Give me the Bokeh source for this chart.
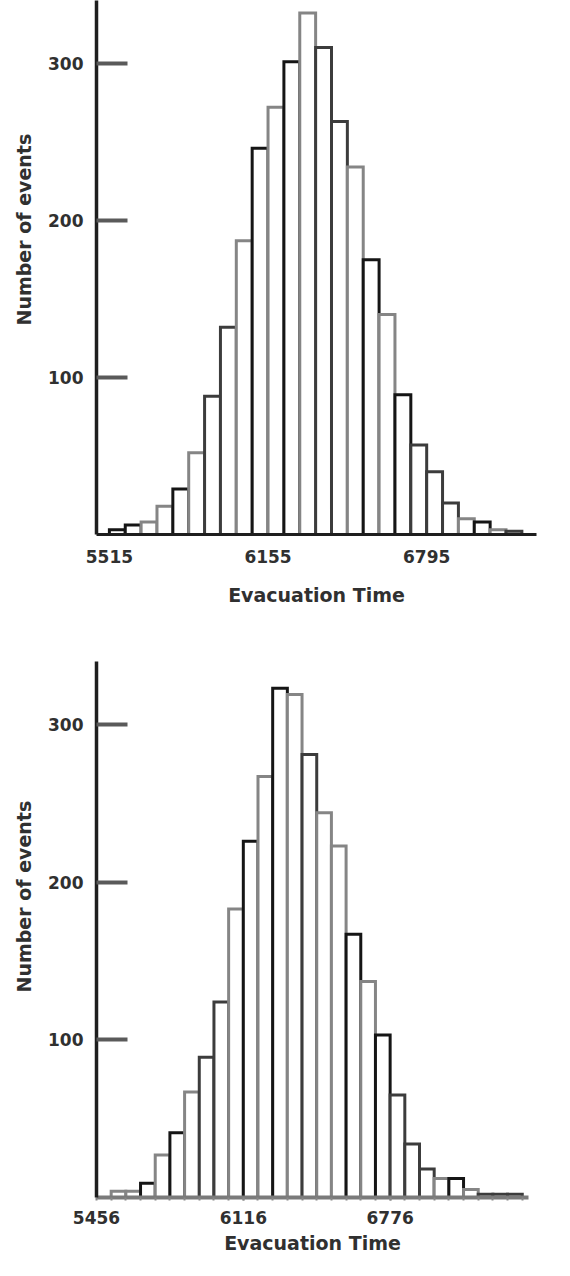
from bokeh.plotting import figure
from bokeh.layouts import column
from bokeh.models import FixedTicker, Title, Range1d, ColumnDataSource
from bokeh.embed import file_html
from bokeh.resources import INLINE

# ---------------- data ----------------
top_bin_start = 5515
top_bin_width = 64
top_counts = [3, 6, 8, 18, 29, 52, 88, 132, 187, 246, 272, 301, 332, 310,
              263, 234, 175, 140, 89, 57, 40, 20, 10, 8, 3, 2]
top_x_ticks = [5515, 6155, 6795]
top_x_labels = ["5515", "6155", "6795"]

bot_bin_start = 5522
bot_bin_width = 66
bot_counts = [4, 4, 9, 27, 41, 67, 89, 124, 183, 226, 267, 323, 319, 281,
              244, 223, 167, 137, 103, 65, 34, 18, 12, 12, 5, 2, 2, 2]
bot_x_ticks = [5456, 6116, 6776]
bot_x_labels = ["5456", "6116", "6776"]

y_ticks = [100, 200, 300]
y_labels = ["100", "200", "300"]

x_title = "Evacuation Time"
y_title = "Number of events"

# ---------------- styles ----------------
K, D, G = "#151515", "#3c3c3c", "#858585"
top_colors = [K, K, G, G, K, G, D, D, G, K, G, K, G, D, D, G, K, G, K, D, D, D, G, K, G, D]
bot_colors = [G, G, K, G, K, G, D, D, G, K, G, K, G, D, G, G, K, G, K, D, D, D, G, K, G, D, D, D]
FONT = "DejaVu Sans"
TXT = "#303030"


def make_hist(counts, start, width, colors, xticks, xlabels, xr, height,
              border_top, border_bottom, fig_width, border_right,
              xaxis_color, xaxis_width, minor_out, title_offset,
              tick_standoff, title_standoff):
    lefts = [start + i * width for i in range(len(counts))]
    rights = [l + width for l in lefts]
    src = ColumnDataSource(dict(left=lefts, right=rights, top=counts,
                                bottom=[0] * len(counts), color=colors))
    p = figure(width=fig_width, height=height, output_backend="svg",
               toolbar_location=None, x_range=Range1d(*xr),
               y_range=Range1d(0, 340), min_border_left=95,
               min_border_right=border_right, min_border_top=border_top,
               min_border_bottom=border_bottom)
    p.outline_line_color = None
    p.grid.visible = False
    p.background_fill_color = "white"
    p.quad(left="left", right="right", top="top", bottom="bottom", source=src,
           fill_color="white", line_color="color", line_width=3,
           line_join="miter")

    ya = p.yaxis[0]
    ya.ticker = FixedTicker(ticks=y_ticks)
    ya.major_label_overrides = {t: s for t, s in zip(y_ticks, y_labels)}
    ya.axis_line_color = "#1e1e1e"
    ya.axis_line_width = 3.5
    ya.major_tick_in = 31
    ya.major_tick_out = 0
    ya.major_tick_line_width = 4
    ya.major_tick_line_color = "#5a5a5a"
    ya.minor_tick_line_color = None
    ya.major_label_standoff = 13
    ya.major_label_text_font = FONT
    ya.major_label_text_font_style = "bold"
    ya.major_label_text_font_size = "17px"
    ya.major_label_text_color = TXT

    xa = p.xaxis[0]
    edges = lefts + [rights[-1]]
    xa.ticker = FixedTicker(ticks=xticks, minor_ticks=edges)
    xa.major_label_overrides = {t: s for t, s in zip(xticks, xlabels)}
    xa.axis_line_color = xaxis_color
    xa.axis_line_width = xaxis_width
    xa.major_tick_in = 0
    xa.major_tick_out = minor_out
    xa.minor_tick_in = 0
    xa.minor_tick_out = minor_out
    xa.major_tick_line_color = "#888888" if minor_out else None
    xa.minor_tick_line_color = "#888888" if minor_out else None
    xa.major_tick_line_width = 2
    xa.minor_tick_line_width = 2
    xa.major_label_standoff = tick_standoff
    xa.major_label_text_font = FONT
    xa.major_label_text_font_style = "bold"
    xa.major_label_text_font_size = "17px"
    xa.major_label_text_color = TXT
    xa.axis_label = x_title
    xa.axis_label_standoff = title_standoff
    xa.axis_label_text_font = FONT
    xa.axis_label_text_font_style = "bold"
    xa.axis_label_text_font_size = "19px"
    xa.axis_label_text_color = TXT

    p.add_layout(Title(text=y_title, align="left", offset=title_offset,
                       standoff=21, text_font=FONT, text_font_style="bold",
                       text_font_size="19px", text_color=TXT), "left")
    return p


p1 = make_hist(top_counts, top_bin_start, top_bin_width, top_colors,
               top_x_ticks, top_x_labels, (5463, 7238), height=614,
               border_top=0, border_bottom=80, fig_width=562, border_right=26,
               xaxis_color="#1e1e1e", xaxis_width=3, minor_out=0, title_offset=209,
               tick_standoff=15, title_standoff=18)
p2 = make_hist(bot_counts, bot_bin_start, bot_bin_width, bot_colors,
               bot_x_ticks, bot_x_labels, (5456, 7398), height=646,
               border_top=47, border_bottom=63, fig_width=554, border_right=0,
               xaxis_color="#7a7a7a", xaxis_width=4, minor_out=3, title_offset=205,
               tick_standoff=10, title_standoff=5)

layout = column(p1, p2, spacing=0)
open("out.html", "w").write(file_html(layout, INLINE))
